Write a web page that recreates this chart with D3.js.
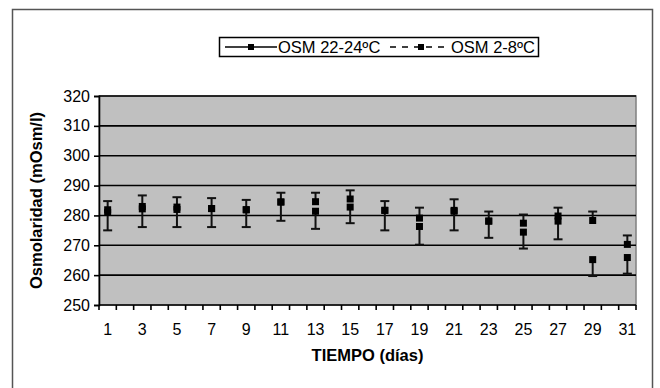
<!DOCTYPE html>
<html>
<head>
<meta charset="utf-8">
<script src="https://cdn.jsdelivr.net/npm/d3@7"></script>
<style>
    body { margin: 0; background: #fff; }
    svg { display: block; font-family: "Liberation Sans", Arial, sans-serif; }
</style>
</head>
<body>
<div id="chart"></div>
<script>
// Data
var days = [1, 3, 5, 7, 9, 11, 13, 15, 17, 19, 21, 23, 25, 27, 29, 31];
var allDays = d3.range(1, 32);
var osm2224 = [281.9, 283.0, 282.8, 282.3, 281.9, 284.5, 284.6, 285.5, 281.7, 279.1, 281.7, 278.1, 277.4, 279.8, 278.3, 270.3];
var errPlus2224 = [2.9, 3.7, 3.3, 3.5, 3.3, 3.1, 3.0, 2.9, 3.1, 3.5, 3.7, 3.2, 2.9, 2.8, 3.0, 3.0];
var osm28 = [281.0, 282.2, 282.0, 282.3, 281.9, 284.5, 281.4, 282.8, 281.7, 276.3, 281.4, 278.1, 274.4, 278.1, 265.2, 265.9];
var errMinus28 = [6.0, 6.1, 5.9, 6.2, 5.8, 6.3, 5.9, 5.4, 6.7, 6.1, 6.4, 5.6, 5.5, 6.1, 5.5, 5.4];
var yTicks = [250, 260, 270, 280, 290, 300, 310, 320];
var seriesNames = ["OSM 22-24ºC", "OSM 2-8ºC"];

var width = 660, height = 388;
var plot = { left: 99, right: 636, top: 96, bottom: 305 };
var tickFont = "16px", titleFont = "16.5px";

var svg = d3.select("#chart").append("svg")
    .attr("width", width)
    .attr("height", height);

// Outer chart frame
svg.append("rect")
    .attr("x", 12.5).attr("y", 9.5)
    .attr("width", 640).attr("height", 400)
    .attr("fill", "#fff")
    .attr("stroke", "#555")
    .attr("stroke-width", 1.5);

// Scales
var x = d3.scaleBand().domain(allDays).range([plot.left, plot.right]).padding(0);
var y = d3.scaleLinear().domain([250, 320]).range([plot.bottom, plot.top]);

// Plot area
svg.append("rect")
    .attr("x", plot.left).attr("y", plot.top)
    .attr("width", plot.right - plot.left).attr("height", plot.bottom - plot.top)
    .attr("fill", "#c0c0c0")
    .attr("stroke", "#808080")
    .attr("stroke-width", 1.5);

// Gridlines
svg.append("g").selectAll("line")
    .data(yTicks.slice(1))
    .enter().append("line")
    .attr("x1", plot.left).attr("x2", plot.right)
    .attr("y1", function(d) { return y(d); })
    .attr("y2", function(d) { return y(d); })
    .attr("stroke", "#000")
    .attr("stroke-width", 1.6);

// Y axis
var yAxis = svg.append("g")
    .attr("transform", "translate(" + plot.left + ",0)")
    .call(d3.axisLeft(y).tickValues(yTicks).tickSize(5).tickPadding(4));
yAxis.select(".domain").attr("stroke", "#000").attr("stroke-width", 1.6);
yAxis.selectAll(".tick line").attr("stroke", "#000").attr("stroke-width", 1.6);
yAxis.selectAll(".tick text")
    .attr("fill", "#000")
    .style("font-size", tickFont)
    .style("font-family", "Liberation Sans, Arial, sans-serif");

// X axis: ticks between categories, labels on odd days
var xAxis = svg.append("g").attr("class", "x-axis");
xAxis.append("line")
    .attr("x1", plot.left).attr("x2", plot.right)
    .attr("y1", plot.bottom).attr("y2", plot.bottom)
    .attr("stroke", "#000").attr("stroke-width", 1.6);
var boundaries = allDays.map(function(d) { return x(d); }).concat([x(31) + x.bandwidth()]);
xAxis.selectAll("line.tick")
    .data(boundaries)
    .enter().append("line")
    .attr("class", "tick")
    .attr("x1", function(d) { return d; }).attr("x2", function(d) { return d; })
    .attr("y1", plot.bottom).attr("y2", plot.bottom + 5)
    .attr("stroke", "#000").attr("stroke-width", 1.6);
xAxis.selectAll("text")
    .data(days)
    .enter().append("text")
    .attr("x", function(d) { return x(d) + x.bandwidth() / 2; })
    .attr("y", 335)
    .attr("text-anchor", "middle")
    .style("font-size", tickFont)
    .text(function(d) { return d; });

// Axis titles
svg.append("text")
    .attr("x", (plot.left + plot.right) / 2)
    .attr("y", 361)
    .attr("text-anchor", "middle")
    .style("font-size", titleFont)
    .style("font-weight", "700")
    .text("TIEMPO (días)");
svg.append("text")
    .attr("transform", "translate(42," + ((plot.top + plot.bottom) / 2) + ") rotate(-90)")
    .attr("text-anchor", "middle")
    .style("font-size", titleFont)
    .style("font-weight", "700")
    .text("Osmolaridad (mOsm/l)");

// Error bars and markers
var capHalf = 4.5;
var markerSize = 7;
var cx = function(i) { return x(days[i]) + x.bandwidth() / 2; };

var drawErrors = function(values, errors, sign) {
    var g = svg.append("g");
    values.forEach(function(v, i) {
        var end = v + sign * errors[i];
        g.append("line")
            .attr("x1", cx(i)).attr("x2", cx(i))
            .attr("y1", y(v)).attr("y2", y(end))
            .attr("stroke", "#111").attr("stroke-width", 2);
        g.append("line")
            .attr("x1", cx(i) - capHalf).attr("x2", cx(i) + capHalf)
            .attr("y1", y(end)).attr("y2", y(end))
            .attr("stroke", "#111").attr("stroke-width", 2);
    });
};
drawErrors(osm2224, errPlus2224, 1);
drawErrors(osm28, errMinus28, -1);

var drawMarkers = function(values) {
    svg.append("g").selectAll("rect")
        .data(values)
        .enter().append("rect")
        .attr("x", function(d, i) { return cx(i) - markerSize / 2; })
        .attr("y", function(d) { return y(d) - markerSize / 2; })
        .attr("width", markerSize).attr("height", markerSize)
        .attr("fill", "#000");
};
drawMarkers(osm2224);
drawMarkers(osm28);

// Legend
var legend = svg.append("g");
legend.append("rect")
    .attr("x", 219.5).attr("y", 37.5)
    .attr("width", 319).attr("height", 19)
    .attr("fill", "#fff")
    .attr("stroke", "#000")
    .attr("stroke-width", 1.5);
legend.append("line")
    .attr("x1", 225).attr("x2", 277).attr("y1", 47).attr("y2", 47)
    .attr("stroke", "#000").attr("stroke-width", 1.5);
legend.append("rect")
    .attr("x", 248).attr("y", 44).attr("width", 6).attr("height", 6).attr("fill", "#000");
legend.append("text")
    .attr("x", 278).attr("y", 53)
    .style("font-size", titleFont)
    .text(seriesNames[0]);
legend.append("line")
    .attr("x1", 390).attr("x2", 448).attr("y1", 47).attr("y2", 47)
    .attr("stroke", "#000").attr("stroke-width", 1.5)
    .attr("stroke-dasharray", "6,6");
legend.append("rect")
    .attr("x", 418).attr("y", 44).attr("width", 6).attr("height", 6).attr("fill", "#000");
legend.append("text")
    .attr("x", 451).attr("y", 53)
    .style("font-size", titleFont)
    .text(seriesNames[1]);
</script>
</body>
</html>
